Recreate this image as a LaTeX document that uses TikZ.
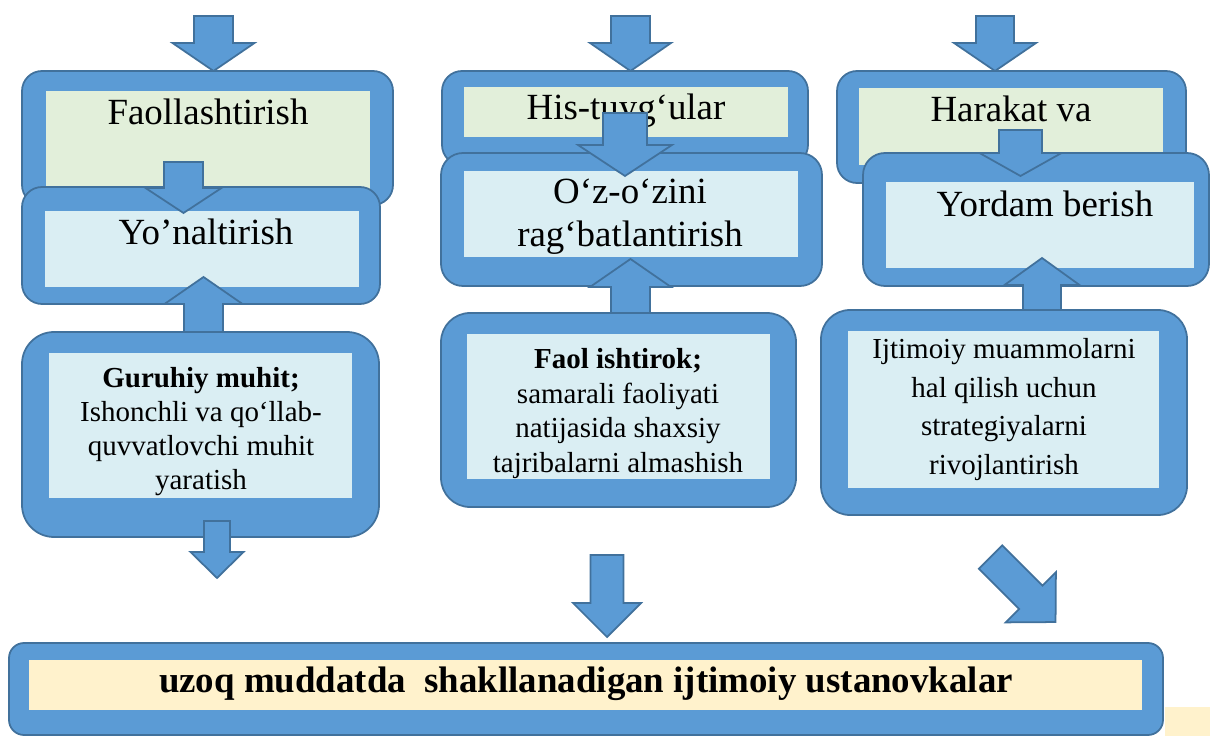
\documentclass[tikz,border=0pt]{standalone}
\usepackage{fontspec}
\setmainfont{Liberation Serif}
\definecolor{boxblue}{HTML}{5B9BD5}
\definecolor{boxline}{HTML}{41719C}
\definecolor{palegreen}{HTML}{E2EFDA}
\definecolor{paleblue}{HTML}{DAEEF3}
\definecolor{cream}{HTML}{FFF2CC}
\newcommand{\blockdown}[6]{\draw[barrow] ({#1-#5},#2) -- ({#1+#5},#2) -- ({#1+#5},#3) -- ({#1+#6},#3) -- (#1,#4) -- ({#1-#6},#3) -- ({#1-#5},#3) -- cycle;}

\begin{document}
\begin{tikzpicture}[x=0.02cm, y=-0.02cm, line join=miter]
        \tikzstyle{outer}=[fill=boxblue, draw=boxline, line width=1pt]
        \tikzstyle{barrow}=[fill=boxblue, draw=boxline, line width=1pt]
        \tikzstyle{big}=[font=\fontsize{21}{25}\selectfont, inner sep=0pt, anchor=base, align=center]
        \tikzstyle{small}=[font=\fontsize{16.5}{19.3}\selectfont, inner sep=0pt, anchor=base, align=center]

        \useasboundingbox (0,0) rectangle (1210,736);

        % first column
        \blockdown{213.5}{16}{43}{71}{19.5}{41}
        \draw[outer, rounded corners=0.4cm] (22,71) rectangle (393,205);
        \fill[palegreen] (46,91) rectangle (370,190);
        \node[big] (faollash) at (208,125) {Faollashtirish};
        \draw[outer, rounded corners=0.4cm] (22,187) rectangle (380,304);
        \fill[paleblue] (45,211) rectangle (359,287);
        \node[big] (yonalt) at (206,245) {Yo’naltirish};
        \blockdown{183.5}{162}{188}{213}{19.5}{38}
        \blockdown{203.5}{333}{304}{277}{19.5}{39}
        \draw[outer, rounded corners=0.64cm] (22,332) rectangle (379,537);
        \fill[paleblue] (49,353) rectangle (352,498);
        \node[small] (guruhiy) at (201,489) {\textbf{Guruhiy muhit;}\\Ishonchli va qo‘llab-\\quvvatlovchi muhit\\yaratish};
        \blockdown{217}{521}{552}{578}{13}{26.5}

        % second column
        \blockdown{630.5}{16}{43}{71}{19.5}{40.5}
        \draw[outer, rounded corners=0.4cm] (442,71) rectangle (808,165);
        \fill[palegreen] (464,87) rectangle (788,137);
        \node[big] (histuyg) at (626,120) {His-tuyg‘ular};
        \draw[outer, rounded corners=0.44cm] (441,153) rectangle (822,286);
        \fill[paleblue] (464,171) rectangle (798,257);
        \node[big, font=\fontsize{21}{25}\selectfont] (ozozini) at (630,247) {O‘z-o‘zini\\rag‘batlantirish};
        \blockdown{625}{113}{145}{176}{22}{47}
        \blockdown{630.5}{314}{287}{259}{19.5}{40.5}
        \draw[outer, rounded corners=0.58cm] (441,313) rectangle (796,507);
        \fill[paleblue] (467,334) rectangle (770,479);
        \node[small, font=\fontsize{16.5}{19.6}\selectfont] (faol) at (618,472) {\textbf{Faol ishtirok;}\\samarali faoliyati\\natijasida shaxsiy\\tajribalarni almashish};
        \blockdown{607}{555}{603}{637}{16.5}{34}

        % third column
        \blockdown{995}{16}{43}{71}{19}{41}
        \draw[outer, rounded corners=0.4cm] (837,71) rectangle (1186,183);
        \fill[palegreen] (859,88) rectangle (1163,165);
        \node[big] (harakat) at (1011,122) {Harakat va};
        \draw[outer, rounded corners=0.44cm] (863,153) rectangle (1209,286);
        \fill[paleblue] (886,182) rectangle (1194,268);
        \node[big] (yordam) at (1045,217) {Yordam berish};
        \blockdown{1020.5}{130}{153}{176}{21.5}{41}
        \blockdown{1042}{311}{285}{258}{19}{37.5}
        \draw[outer, rounded corners=0.58cm] (821,310) rectangle (1187,515);
        \fill[paleblue] (848,331) rectangle (1159,488);
        \node[small, font=\fontsize{16.5}{21.9}\selectfont] (ijtimoiy) at (1004,474) {Ijtimoiy muammolarni\\hal qilish uchun\\strategiyalarni\\rivojlantirish};
        \begin{scope}[shift={(990.5,557)}, rotate=45]
            \blockdown{0}{0}{57}{92}{16.5}{35.5}
        \end{scope}

        % result
        \draw[outer, rounded corners=0.3cm] (9,643) rectangle (1163,735);
        \fill[cream] (29,660) rectangle (1142,710);
        \fill[cream] (1165,707) rectangle (1210,736);
        \node[big, font=\fontsize{21}{25}\selectfont\bfseries] (ustanovka) at (586,692) {uzoq muddatda~ shakllanadigan ijtimoiy ustanovkalar};
\end{tikzpicture}
\end{document}
